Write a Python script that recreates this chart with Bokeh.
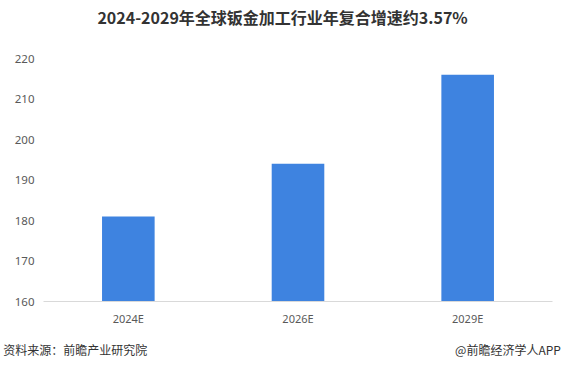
from bokeh.plotting import figure
from bokeh.models import FactorRange, Range1d, FixedTicker, CategoricalAxis
from bokeh.embed import file_html
from bokeh.resources import INLINE

categories = ["2024E", "2026E", "2029E"]
values = [181, 194, 216]
y_ticks = [160, 170, 180, 190, 200, 210, 220]

title_text = "2024-2029年全球钣金加工行业年复合增速约3.57%"
source_text = "资料来源：前瞻产业研究院"
brand_text = "@前瞻经济学人APP"

W, H = 563, 369

p = figure(width=W, height=H, x_range=FactorRange(*categories),
           y_range=Range1d(160, 220), output_backend="svg",
           toolbar_location=None, min_border_left=43, min_border_right=11,
           min_border_top=58, min_border_bottom=68)
p.outline_line_color = None
p.border_fill_color = "white"

p.vbar(x=categories, top=values, bottom=160, width=0.31,
       color="#3E83E0", line_color=None)

p.xgrid.grid_line_color = None
p.ygrid.grid_line_color = None

p.yaxis.ticker = FixedTicker(ticks=y_ticks)
p.yaxis.axis_line_color = None
p.yaxis.major_tick_line_color = None
p.yaxis.minor_tick_line_color = None
p.yaxis.major_tick_out = 0
p.yaxis.minor_tick_out = 0
p.yaxis.major_label_text_font_size = "11.5px"
p.yaxis.major_label_text_color = "#595959"
p.yaxis.major_label_text_font = "Noto Sans"
p.yaxis.major_label_standoff = 9

p.xaxis.axis_line_color = "#d9d9d9"
p.xaxis.major_tick_line_color = None
p.xaxis.minor_tick_line_color = None
p.xaxis.major_tick_out = 0
p.xaxis.minor_tick_out = 0
p.xaxis.major_label_text_font_size = "11px"
p.xaxis.major_label_text_color = "#595959"
p.xaxis.major_label_text_font = "Noto Sans"
p.xaxis.major_label_standoff = 9


def slots(n, placed):
    # evenly spaced slots across the frame; unused slots get blank labels
    return [placed.get(k, " " * (k + 1)) for k in range(n)]


# title (above) and footer (below) are written as labels of extra
# categorical axes, so they sit outside the plotting frame
p.extra_x_ranges = {
    "head": FactorRange(*slots(33, {15: title_text})),
    "foot": FactorRange(*slots(40, {2: source_text, 36: brand_text})),
}

head = CategoricalAxis(x_range_name="head", axis_line_color=None,
                       major_tick_line_color=None, minor_tick_line_color=None,
                       major_tick_out=0, minor_tick_out=0,
                       major_label_standoff=30,
                       major_label_text_font="Noto Sans CJK SC",
                       major_label_text_font_style="bold",
                       major_label_text_font_size="16px",
                       major_label_text_color="#333333")
p.add_layout(head, "above")

foot = CategoricalAxis(x_range_name="foot", axis_line_color=None,
                       major_tick_line_color=None, minor_tick_line_color=None,
                       major_tick_out=0, minor_tick_out=0,
                       major_label_standoff=12,
                       major_label_text_font="Noto Sans CJK SC",
                       major_label_text_font_size="12px",
                       major_label_text_color="#333333")
p.add_layout(foot, "below")

open("out.html", "w").write(file_html(p, INLINE))
